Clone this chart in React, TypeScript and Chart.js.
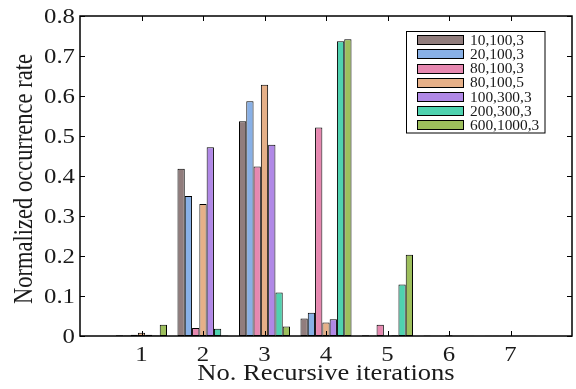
import React, { useEffect, useRef } from "react";
import { Chart, registerables } from "chart.js";

Chart.register(...registerables);

const categories = ["0", "1", "2", "3", "4", "5", "6", "7", "8"];
const tickLabelsX = ["", "1", "2", "3", "4", "5", "6", "7", ""];
const seriesNames = ["10,100,3", "20,100,3", "80,100,3", "80,100,5", "100,300,3", "200,300,3", "600,1000,3"];
const seriesColors = ["#917d7d", "#88b0e6", "#e688b0", "#e6b088", "#b088e6", "#4fd2af", "#9dbf5c"];

const s10_100_3 = [null, 0.002, 0.418, 0.537, 0.044, 0.002, 0.001, 0.0005, null];
const s20_100_3 = [null, 0.001, 0.35, 0.587, 0.058, 0.001, 0.0005, 0.0005, null];
const s80_100_3 = [null, 0.003, 0.02, 0.424, 0.521, 0.028, 0.0005, 0.0005, null];
const s80_100_5 = [null, 0.008, 0.33, 0.628, 0.034, 0.001, 0.002, 0.0005, null];
const s100_300_3 = [null, 0.003, 0.472, 0.478, 0.042, 0.002, 0.0005, 0.0005, null];
const s200_300_3 = [null, 0.001, 0.018, 0.109, 0.737, 0.129, 0.0005, 0.0005, null];
const s600_1000_3 = [null, 0.028, 0.001, 0.024, 0.742, 0.203, 0.0005, 0.0005, null];

const seriesValues = [s10_100_3, s20_100_3, s80_100_3, s80_100_5, s100_300_3, s200_300_3, s600_1000_3];

const yTickValues = [0, 0.1, 0.2, 0.3, 0.4, 0.5, 0.6, 0.7, 0.8];
const xTitle = "No. Recursive iterations";
const yTitle = "Normalized occurrence rate";

const FONT = "'Liberation Serif', 'Times New Roman', serif";
const SX = 1.18;
const TEXT = "#1a1a1a";

function stretchedText(ctx: any, text: string, x: number, y: number, size: number, align: string, sx: number = SX) {
  ctx.save();
  ctx.translate(x, y);
  ctx.scale(sx, 1);
  ctx.font = `${size}px ${FONT}`;
  ctx.textAlign = align;
  ctx.textBaseline = "alphabetic";
  ctx.fillText(text, 0, 0);
  ctx.restore();
}

const boxPlugin = {
  id: "matlabBox",
  afterDraw(chart: any) {
    const { ctx, chartArea } = chart;
    const { left, right, top, bottom } = chartArea;
    const xs = chart.scales.x;
    const ys = chart.scales.y;
    ctx.save();
    ctx.strokeStyle = "#000";
    ctx.lineWidth = 1.5;
    ctx.strokeRect(left, top, right - left, bottom - top);
    ctx.lineWidth = 1;
    const tl = 5;
    for (let i = 1; i <= 7; i++) {
      const px = Math.round(xs.getPixelForValue(i)) + 0.5;
      ctx.beginPath();
      ctx.moveTo(px, bottom);
      ctx.lineTo(px, bottom - tl);
      ctx.moveTo(px, top);
      ctx.lineTo(px, top + tl);
      ctx.stroke();
    }
    yTickValues.forEach((v) => {
      const py = Math.round(ys.getPixelForValue(v)) + 0.5;
      ctx.beginPath();
      ctx.moveTo(left, py);
      ctx.lineTo(left + tl, py);
      ctx.moveTo(right, py);
      ctx.lineTo(right - tl, py);
      ctx.stroke();
    });

    // tick labels
    ctx.fillStyle = TEXT;
    yTickValues.forEach((v) => {
      const py = ys.getPixelForValue(v);
      const label = v === 0 ? "0" : v.toFixed(1);
      stretchedText(ctx, label, left - 5, py + 7, 21, "right");
    });
    tickLabelsX.forEach((lab, i) => {
      if (!lab) return;
      const px = xs.getPixelForValue(i);
      stretchedText(ctx, lab, px, 361, 21, "center");
    });

    // axis titles
    stretchedText(ctx, xTitle, (left + right) / 2, 379.5, 22.5, "center");
    ctx.save();
    ctx.translate(25, 179);
    ctx.rotate(-Math.PI / 2);
    ctx.scale(1, SX);
    ctx.font = `22.5px ${FONT}`;
    ctx.textAlign = "center";
    ctx.textBaseline = "middle";
    ctx.fillText(yTitle, 0, 0);
    ctx.restore();

    // legend
    const lx = 406.5, ly = 31.5, lw = 138.5, lh = 101.5;
    ctx.fillStyle = "#fff";
    ctx.fillRect(lx, ly, lw, lh);
    ctx.strokeStyle = "#000";
    ctx.lineWidth = 1;
    ctx.strokeRect(lx, ly, lw, lh);
    chart.data.datasets.forEach((ds: any, i: number) => {
      const cy = 39.7 + i * 14.2;
      ctx.fillStyle = ds.backgroundColor;
      ctx.fillRect(417.5, Math.round(cy - 4.5) + 0.5, 46, 9);
      ctx.strokeStyle = "#000";
      ctx.strokeRect(417.5, Math.round(cy - 4.5) + 0.5, 46, 9);
      ctx.fillStyle = TEXT;
      stretchedText(ctx, ds.label, 470, cy + 5, 14, "left", 1.1);
    });
    ctx.restore();
  },
};

export default function App() {
  const ref = useRef<HTMLCanvasElement | null>(null);
  useEffect(() => {
    if (!ref.current) return;
    const chart = new Chart(ref.current, {
      type: "bar",
      data: {
        labels: categories,
        datasets: seriesValues.map((vals, i) => ({
          label: seriesNames[i],
          data: vals as any,
          backgroundColor: seriesColors[i],
          borderColor: "#000",
          borderWidth: 1,
          borderSkipped: false,
        })),
      },
      options: {
        responsive: false,
        animation: false,
        maintainAspectRatio: false,
        devicePixelRatio: 1,
        layout: { padding: { left: 0, right: 4, top: 16, bottom: 0 } },
        datasets: {
          bar: { categoryPercentage: 0.83, barPercentage: 1 },
        },
        plugins: {
          legend: { display: false },
          tooltip: { enabled: false },
        },
        scales: {
          x: {
            type: "category",
            offset: false,
            grid: { display: false, offset: false },
            border: { display: false },
            ticks: { display: false, autoSkip: false },
            title: { display: false },
            afterFit: (s: any) => {
              s.height = 53;
            },
          },
          y: {
            min: 0,
            max: 0.8,
            grid: { display: false },
            border: { display: false },
            ticks: { display: false, stepSize: 0.1 },
            title: { display: false },
            afterFit: (s: any) => {
              s.width = 80;
            },
          },
        },
      },
      plugins: [boxPlugin],
    });
    return () => chart.destroy();
  }, []);
  return (
    <div style={{ position: "fixed", left: 0, top: 0, width: 576, height: 389, background: "#fff" }}>
      <canvas ref={ref} width={576} height={389} style={{ display: "block", width: 576, height: 389 }} />
    </div>
  );
}
